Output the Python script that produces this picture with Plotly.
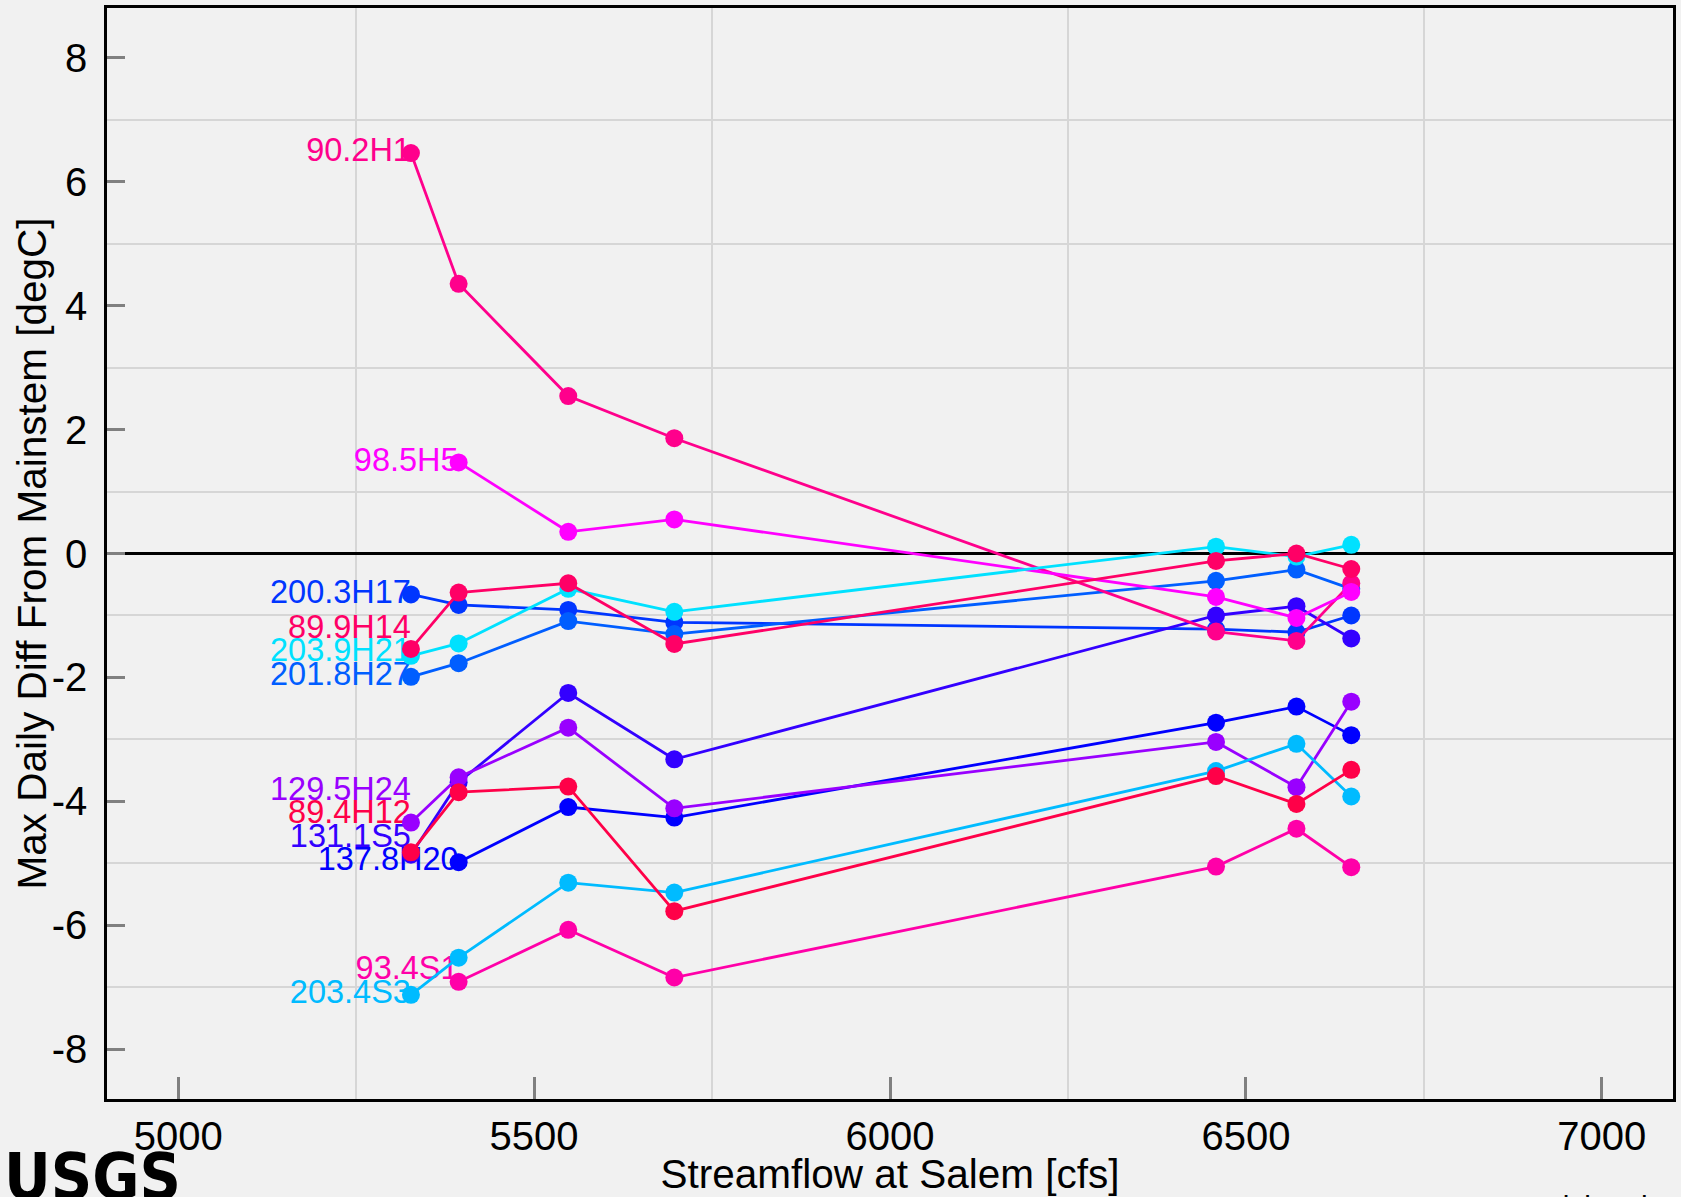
import plotly.graph_objects as go

# ---------------- data ----------------
flow_cfs = [5327, 5394, 5548, 5697, 6458, 6571, 6648]

site_names = ["200.3H17", "131.1S5", "201.8H27", "90.2H1", "98.5H5", "203.9H21",
              "89.9H14", "137.8H20", "129.5H24", "203.4S3", "89.4H12", "93.4S1"]

site_colors = ["#0036ff", "#3300ff", "#005eff", "#ff008c", "#ff00ff", "#00e1ff",
               "#ff0066", "#0000ff", "#9900ff", "#00bbff", "#ff0048", "#ff00a8"]

diff_200_3H17 = [-0.66, -0.83, -0.91, -1.11, -1.22, -1.27, -1.00]
diff_131_1S5 = [-4.86, -3.69, -2.25, -3.32, -1.00, -0.85, -1.37]
diff_201_8H27 = [-1.99, -1.77, -1.09, -1.30, -0.44, -0.26, -0.57]
diff_90_2H1 = [6.46, 4.35, 2.54, 1.86, -1.26, -1.41, -0.48]
diff_98_5H5 = [None, 1.47, 0.35, 0.55, -0.70, -1.04, -0.62]
diff_203_9H21 = [-1.65, -1.45, -0.57, -0.94, 0.11, -0.05, 0.14]
diff_89_9H14 = [-1.54, -0.63, -0.48, -1.46, -0.12, 0.00, -0.25]
diff_137_8H20 = [None, -4.98, -4.09, -4.26, -2.73, -2.47, -2.93]
diff_129_5H24 = [-4.34, -3.61, -2.81, -4.11, -3.04, -3.77, -2.39]
diff_203_4S3 = [-7.12, -6.52, -5.31, -5.47, -3.51, -3.07, -3.92]
diff_89_4H12 = [-4.82, -3.85, -3.76, -5.77, -3.59, -4.04, -3.49]
diff_93_4S1 = [None, -6.91, -6.07, -6.84, -5.05, -4.44, -5.06]

site_values = [diff_200_3H17, diff_131_1S5, diff_201_8H27, diff_90_2H1, diff_98_5H5,
               diff_203_9H21, diff_89_9H14, diff_137_8H20, diff_129_5H24,
               diff_203_4S3, diff_89_4H12, diff_93_4S1]

x_tick_vals = [5000, 5500, 6000, 6500, 7000]
x_grid_vals = [5250, 5750, 6250, 6750]
y_tick_vals = [-8, -6, -4, -2, 0, 2, 4, 6, 8]
y_tick_text = ["-8", "-6", "-4", "-2", "0", "2", "4", "6", "8"]
y_grid_vals = [-7, -5, -3, -1, 1, 3, 5, 7]

# ---------------- layout geometry ----------------
W, H = 1681, 1197
ML, MR, MT, MB = 107, 7, 5, 98
PW, PH = W - ML - MR, H - MT - MB
FONT = "Liberation Sans, Arial, Helvetica, sans-serif"


def px_x(px):
    return (px - ML) / PW


def px_y(py):
    return (H - MB - py) / PH


# label placement: each label at the first point of its series, pushed up to avoid overlap
LABEL_GAP = 0.38
anchors = []
for name, color, vals in zip(site_names, site_colors, site_values):
    i0 = next(i for i, v in enumerate(vals) if v is not None)
    anchors.append([vals[i0], flow_cfs[i0], name, color])
anchors.sort(key=lambda a: a[0])
placed = []
prev = None
for yv, xv, name, color in anchors:
    ly = yv if prev is None else max(yv, prev + LABEL_GAP)
    placed.append((xv, ly, name, color))
    prev = ly

fig = go.Figure()

# labels first so that markers draw over them
for xv, ly, name, color in placed:
    fig.add_trace(go.Scatter(
        x=[xv], y=[ly], mode="text", text=[name], textposition="middle left",
        textfont=dict(family=FONT, size=32.5, color=color),
        hoverinfo="skip", showlegend=False, cliponaxis=False))

for name, color, vals in zip(site_names, site_colors, site_values):
    fig.add_trace(go.Scatter(
        x=flow_cfs, y=vals, mode="lines+markers", name=name,
        line=dict(color=color, width=2.8),
        marker=dict(color=color, size=18),
        connectgaps=False, showlegend=False))

axis_common = dict(
    showline=True, linecolor="black", linewidth=2.5, mirror=True,
    ticks="inside", tickcolor="#808080", tickwidth=2.5,
    showgrid=False,
    tickfont=dict(family=FONT, size=40, color="black"),
)

fig.update_layout(
    width=W, height=H,
    margin=dict(l=ML, r=MR, t=MT, b=MB, pad=0),
    paper_bgcolor="#f1f1f1", plot_bgcolor="#f1f1f1",
    showlegend=False,
    xaxis=dict(
        range=[4900, 7100], tickmode="array", tickvals=x_tick_vals,
        ticklen=22, zeroline=False, ticklabelstandoff=0,
        minor=dict(tickmode="array", tickvals=x_grid_vals, showgrid=True,
                   gridcolor="#d6d6d6", gridwidth=1.5, ticks=""),
        title=dict(text="Streamflow at Salem [cfs]",
                   font=dict(family=FONT, size=40.5, color="black"), standoff=6),
        **axis_common),
    yaxis=dict(
        range=[-8.8, 8.8], tickmode="array", tickvals=y_tick_vals, ticktext=y_tick_text,
        ticklen=18, zeroline=True, zerolinecolor="black", zerolinewidth=2.5,
        ticklabelstandoff=9,
        minor=dict(tickmode="array", tickvals=y_grid_vals, showgrid=True,
                   gridcolor="#d6d6d6", gridwidth=1.5, ticks=""),
        **axis_common),
    annotations=[
        dict(text="Max Daily Diff From Mainstem [degC]", xref="paper", yref="paper",
             x=px_x(31), y=0.5, xanchor="center", yanchor="middle", textangle=-90,
             showarrow=False, font=dict(family=FONT, size=40.5, color="black")),
        dict(text="<b>USGS</b>", xref="paper", yref="paper",
             x=px_x(2), y=px_y(1138), xanchor="left", yanchor="top", showarrow=False,
             font=dict(family="DejaVu Sans Condensed, Liberation Sans Narrow, Arial Narrow, sans-serif",
                       size=64, color="black")),
        dict(text="Provisional Data Subject to Revision", xref="paper", yref="paper",
             x=px_x(1500), y=px_y(1188), xanchor="left", yanchor="top", showarrow=False,
             font=dict(family=FONT, size=30, color="black")),
    ],
)

fig.write_html("out.html")
